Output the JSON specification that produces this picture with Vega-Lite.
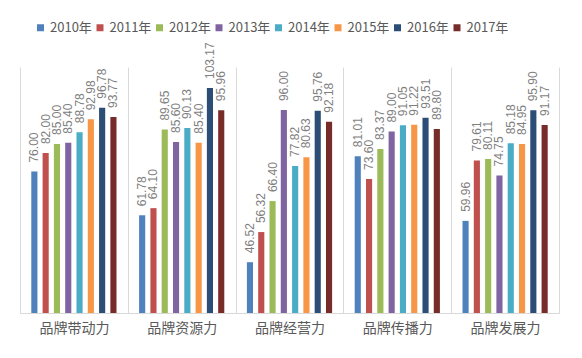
{
  "$schema": "https://vega.github.io/schema/vega-lite/v6.json",
  "width": 539,
  "height": 246,
  "autosize": {"type": "none"},
  "padding": {"left": 20, "top": 67, "right": 23, "bottom": 45},
  "background": "white",
  "config": {"view": {"stroke": null}, "font": "Noto Sans CJK SC"},
  "data": {
    "values": [
      {"cat": "品牌带动力", "year": "2010年", "value": 76.00},
      {"cat": "品牌带动力", "year": "2011年", "value": 82.00},
      {"cat": "品牌带动力", "year": "2012年", "value": 85.00},
      {"cat": "品牌带动力", "year": "2013年", "value": 85.40},
      {"cat": "品牌带动力", "year": "2014年", "value": 88.78},
      {"cat": "品牌带动力", "year": "2015年", "value": 92.98},
      {"cat": "品牌带动力", "year": "2016年", "value": 96.78},
      {"cat": "品牌带动力", "year": "2017年", "value": 93.77},
      {"cat": "品牌资源力", "year": "2010年", "value": 61.78},
      {"cat": "品牌资源力", "year": "2011年", "value": 64.10},
      {"cat": "品牌资源力", "year": "2012年", "value": 89.65},
      {"cat": "品牌资源力", "year": "2013年", "value": 85.60},
      {"cat": "品牌资源力", "year": "2014年", "value": 90.13},
      {"cat": "品牌资源力", "year": "2015年", "value": 85.40},
      {"cat": "品牌资源力", "year": "2016年", "value": 103.17},
      {"cat": "品牌资源力", "year": "2017年", "value": 95.96},
      {"cat": "品牌经营力", "year": "2010年", "value": 46.52},
      {"cat": "品牌经营力", "year": "2011年", "value": 56.32},
      {"cat": "品牌经营力", "year": "2012年", "value": 66.40},
      {"cat": "品牌经营力", "year": "2013年", "value": 96.00},
      {"cat": "品牌经营力", "year": "2014年", "value": 77.82},
      {"cat": "品牌经营力", "year": "2015年", "value": 80.63},
      {"cat": "品牌经营力", "year": "2016年", "value": 95.76},
      {"cat": "品牌经营力", "year": "2017年", "value": 92.18},
      {"cat": "品牌传播力", "year": "2010年", "value": 81.01},
      {"cat": "品牌传播力", "year": "2011年", "value": 73.60},
      {"cat": "品牌传播力", "year": "2012年", "value": 83.37},
      {"cat": "品牌传播力", "year": "2013年", "value": 89.00},
      {"cat": "品牌传播力", "year": "2014年", "value": 91.05},
      {"cat": "品牌传播力", "year": "2015年", "value": 91.22},
      {"cat": "品牌传播力", "year": "2016年", "value": 93.51},
      {"cat": "品牌传播力", "year": "2017年", "value": 89.80},
      {"cat": "品牌发展力", "year": "2010年", "value": 59.96},
      {"cat": "品牌发展力", "year": "2011年", "value": 79.61},
      {"cat": "品牌发展力", "year": "2012年", "value": 80.11},
      {"cat": "品牌发展力", "year": "2013年", "value": 74.75},
      {"cat": "品牌发展力", "year": "2014年", "value": 85.18},
      {"cat": "品牌发展力", "year": "2015年", "value": 84.95},
      {"cat": "品牌发展力", "year": "2016年", "value": 95.90},
      {"cat": "品牌发展力", "year": "2017年", "value": 91.17}
    ]
  },
  "encoding": {
    "x": {
      "field": "cat",
      "type": "nominal",
      "sort": ["品牌带动力", "品牌资源力", "品牌经营力", "品牌传播力", "品牌发展力"],
      "scale": {"paddingInner": 0, "paddingOuter": 0},
      "axis": {
        "title": null,
        "labelAngle": 0,
        "tickBand": "extent",
        "grid": true,
        "gridColor": "#d9d9d9",
        "gridWidth": 1,
        "ticks": false,
        "domainColor": "#d9d9d9",
        "labelFont": "Noto Sans CJK SC",
        "labelFontSize": 14,
        "labelColor": "#595959",
        "labelPadding": 8
      }
    },
    "xOffset": {
      "field": "year",
      "type": "nominal",
      "sort": ["2010年", "2011年", "2012年", "2013年", "2014年", "2015年", "2016年", "2017年"],
      "scale": {"paddingInner": 0.457, "paddingOuter": 1.12}
    },
    "y": {
      "field": "value",
      "type": "quantitative",
      "scale": {"domain": [30, 110], "nice": false, "zero": false},
      "axis": null
    }
  },
  "layer": [
    {
      "mark": {"type": "bar", "clip": true},
      "encoding": {
        "y2": {"datum": 30},
        "color": {
          "field": "year",
          "type": "nominal",
          "scale": {
            "domain": ["2010年", "2011年", "2012年", "2013年", "2014年", "2015年", "2016年", "2017年"],
            "range": ["#4F81BD", "#C0504D", "#9BBB59", "#8064A2", "#4BACC6", "#F79646", "#2C4D75", "#772C2A"]
          },
          "legend": {
            "title": null,
            "orient": "none",
            "direction": "horizontal",
            "columns": 8,
            "legendX": 14,
            "legendY": -46,
            "symbolType": "square",
            "symbolSize": 49,
            "symbolStrokeWidth": 0,
            "labelFont": "Noto Sans CJK SC",
            "labelFontSize": 13,
            "labelColor": "#595959",
            "labelOffset": 3,
            "columnPadding": 1.5
          }
        }
      }
    },
    {
      "mark": {
        "type": "text",
        "angle": 270,
        "align": "left",
        "baseline": "middle",
        "dx": 9,
        "fontSize": 12,
        "font": "Liberation Sans",
        "color": "#7f7f7f"
      },
      "encoding": {
        "text": {"field": "value", "type": "quantitative", "format": ".2f"}
      }
    }
  ]
}
